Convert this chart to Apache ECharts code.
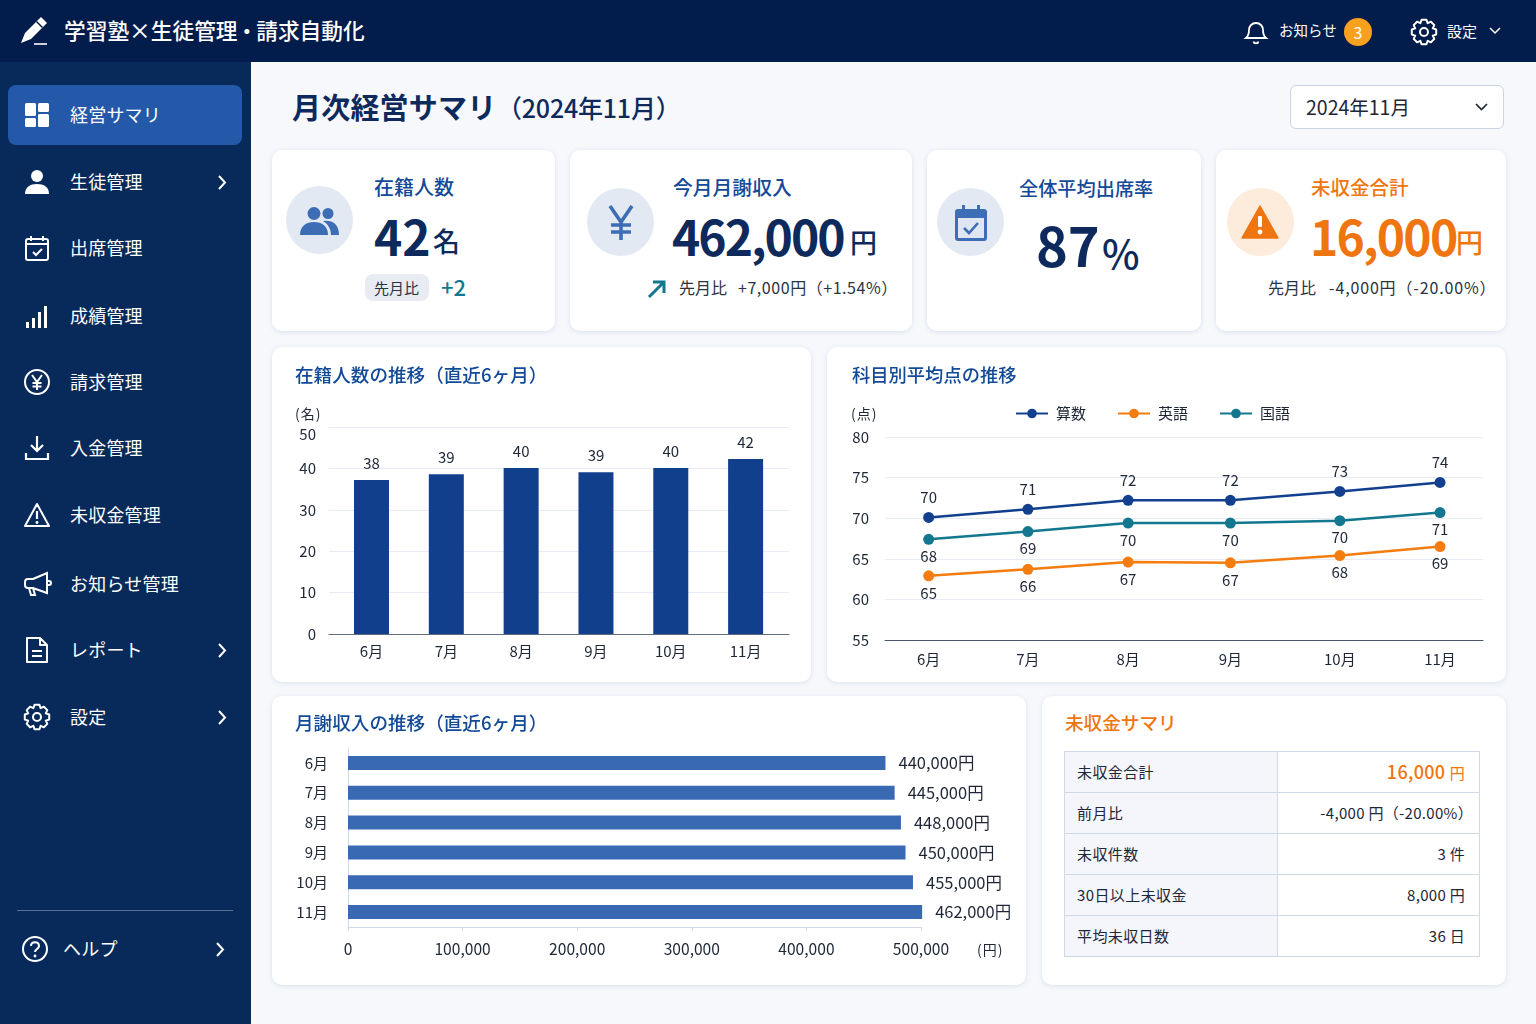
<!DOCTYPE html>
<html lang="ja">
<head>
<meta charset="utf-8">
<title>月次経営サマリ</title>
<script src="https://cdn.jsdelivr.net/npm/echarts@6/dist/echarts.min.js"></script>
<style>
  * { box-sizing: border-box; margin: 0; padding: 0; }
  html, body { width: 1536px; height: 1024px; overflow: hidden; background: #f6f8fc; font-family: 'Noto Sans CJK JP', 'Noto Sans', sans-serif; color: #1f2737; }
  .abs { position: absolute; }
  .t { position: absolute; white-space: nowrap; transform: translateY(calc(-50% - 1px)); line-height: 1; }
  .card { position: absolute; background: #fff; border-radius: 10px; box-shadow: 0 1px 5px rgba(40, 70, 120, .13); }
  .chart { position: absolute; left: 0; top: 0; width: 100%; height: 100%; }
  #topbar { position: absolute; left: 0; top: 0; width: 1536px; height: 62px; background: #021c4b; color: #fff; }
  #sidebar { position: absolute; left: 0; top: 62px; width: 251px; height: 962px; background: #072a5a; color: #fff; }
  .active { position: absolute; left: 8px; top: 23px; width: 234px; height: 60px; border-radius: 8px; background: #2458a8; }
  .nav { font-size: 18px; font-weight: 400; letter-spacing: .2px; }
  .kpi-label { font-size: 19.5px; font-weight: 500; color: #134a97; }
  .kpi-num { font-size: 48px; font-weight: 700; color: #0e2a5c; }
  .kpi-unit { font-size: 27px; font-weight: 500; color: #0e2a5c; }
  .delta { font-size: 16px; color: #2b3342; }
  .title { font-size: 18.6px; font-weight: 500; color: #134a97; }
  .unit { font-size: 14px; color: #1f2737; letter-spacing: 1px; }
  .orange { color: #ef7510; }
  .circle { position: absolute; width: 67px; height: 68px; border-radius: 50%; background: #e3e9f3; }
  table { position: absolute; left: 1064px; top: 751px; width: 416px; height: 205px; border-collapse: collapse; font-size: 15px; table-layout: fixed; }
  td { border: 1px solid #cfd9e8; padding: 0 14px 2px 12px; height: 41px; line-height: 1; }
  td:first-child { width: 213px; background: #f4f6fb; letter-spacing: .4px; }
  td:last-child { text-align: right; letter-spacing: .3px; }
  td.hl { color: #ef7510; font-size: 18px; font-weight: 500; }
  td.hl small { font-size: 15px; font-weight: 400; }
  svg { position: absolute; overflow: visible; }
</style>
</head>
<body>
<div id="topbar">
  <svg style="left:20px;top:16px" width="28" height="30" viewBox="0 0 28 30" fill="#fff"><path d="M21 1l6 6-16 16-10 4 4-10z"/><path d="M16.5 5.5l6 6" stroke="#021c4b" stroke-width="1.5"/><path d="M14 28h13" stroke="#fff" stroke-width="1.6"/></svg>
  <div class="t" style="left:64px;top:31px;font-size:21.7px;font-weight:500">学習塾×生徒管理<span style="display:inline-block;margin:0 -1.5px">・</span>請求自動化</div>
  <svg style="left:1244px;top:19px" width="24" height="27" viewBox="0 0 24 27" fill="none" stroke="#fff" stroke-width="1.8"><path d="M2 19c2.5-2 3-4 3-8 0-4 3-7 7-7s7 3 7 7c0 4 .5 6 3 8z"/><path d="M9.5 22.5c.5 2.4 4.5 2.4 5 0"/></svg>
  <div class="t" style="left:1279px;top:31px;font-size:14.5px">お知らせ</div>
  <div class="abs" style="left:1344px;top:18px;width:28px;height:28px;border-radius:50%;background:#f7a11f"></div>
  <div class="t" style="left:1353.5px;top:33px;font-size:16px;color:#fff">3</div>
  <svg id="gearTop" style="left:1411px;top:19px" width="26" height="26" viewBox="0 0 26 26"></svg>
  <div class="t" style="left:1447px;top:31px;font-size:15px">設定</div>
  <svg style="left:1489px;top:27px" width="12" height="8" fill="none" stroke="#fff" stroke-width="1.5"><path d="M1 1l5 5 5-5"/></svg>
</div>

<div id="sidebar"><div class="active"></div></div>

<div class="t" style="left:292px;top:107px;font-size:29px;font-weight:700;color:#0e2a5c;letter-spacing:.2px">月次経営サマリ</div>
<div class="t" style="left:497px;top:108px;font-size:25px;font-weight:500;color:#0e2a5c;letter-spacing:-.2px">（2024年11月）</div>

<div class="abs" style="left:1290px;top:85px;width:214px;height:44px;background:#fff;border:1px solid #c9d4e4;border-radius:6px"></div>
<div class="t" style="left:1306px;top:108px;font-size:19.5px">2024年11月</div>
<svg style="left:1475px;top:103px" width="13" height="8" fill="none" stroke="#1f2737" stroke-width="1.7"><path d="M1 1l5.5 5.5 5.5-5.5"/></svg>

<div class="card" style="left:272px;top:150px;width:283px;height:181px"></div>
<div class="card" style="left:570px;top:150px;width:342px;height:181px"></div>
<div class="card" style="left:927px;top:150px;width:274px;height:181px"></div>
<div class="card" style="left:1216px;top:150px;width:290px;height:181px"></div>

<div class="circle" style="left:286px;top:186px"></div>
<svg style="left:299px;top:206px" width="42" height="30" viewBox="0 0 42 30" fill="#3d6db5"><circle cx="15" cy="7.5" r="6.5"/><circle cx="29" cy="7.5" r="5.5"/><path d="M1 29c0-9 6-13 14-13s14 4 14 13z"/><path d="M24 15c8-1.5 16 2 16 14h-8c0-6-3-11-8-14z"/></svg>
<div class="t kpi-label" style="left:374px;top:188px;font-size:20px">在籍人数</div>
<div class="t kpi-num" style="left:374px;top:236px">42</div>
<div class="t kpi-unit" style="left:433px;top:241px">名</div>
<div class="abs" style="left:365px;top:274px;width:64px;height:27px;border-radius:8px;background:#e8ecf2"></div>
<div class="t" style="left:374px;top:288px;font-size:15px;color:#2b3342">先月比</div>
<div class="t" style="left:441px;top:287px;font-size:22px;font-weight:500;color:#13788f">+2</div>

<div class="circle" style="left:587px;top:188px"></div>
<svg style="left:608px;top:205px" width="26" height="36" fill="none" stroke="#3d6db5" stroke-width="3.6"><path d="M2 1l11 16L24 1M13 17v18M3 20h20M3 27h20"/></svg>
<div class="t kpi-label" style="left:673px;top:188px;font-size:19.8px">今月月謝収入</div>
<div class="t kpi-num" style="left:672px;top:236px;letter-spacing:-2px">462,000</div>
<div class="t kpi-unit" style="left:850px;top:242px">円</div>
<svg style="left:647px;top:279px" width="20" height="20" fill="none" stroke="#13788f" stroke-width="3"><path d="M2 18L16 4M6 3h11v11"/></svg>
<div class="t delta" style="left:679px;top:288px">先月比</div>
<div class="t delta" style="left:738px;top:288px;letter-spacing:.55px">+7,000円（+1.54%）</div>

<div class="circle" style="left:937px;top:188px"></div>
<svg style="left:954px;top:205px" width="34" height="37" viewBox="0 0 34 37"><rect x="1" y="4" width="32" height="32" rx="3" fill="#3d6db5"/><rect x="4" y="13" width="26" height="20" fill="#dfe6f2"/><rect x="8" y="0" width="3" height="8" fill="#3d6db5"/><rect x="23" y="0" width="3" height="8" fill="#3d6db5"/><path d="M10 23l5 5 9-10" fill="none" stroke="#3d6db5" stroke-width="2.6"/></svg>
<div class="t kpi-label" style="left:1019px;top:190px;font-size:19.2px">全体平均出席率</div>
<div class="t kpi-num" style="left:1036px;top:245px;font-size:54px">87</div>
<div class="t" style="left:1102px;top:253px;font-size:40px;font-weight:500;color:#0e2a5c">%</div>

<div class="circle" style="left:1227px;top:188px;background:#fdebdc"></div>
<svg style="left:1241px;top:205px" width="38" height="34" viewBox="0 0 38 34"><path d="M19 1L37 33H1z" fill="#ef7510" stroke="#ef7510" stroke-width="1.5" stroke-linejoin="round"/><rect x="17" y="11" width="4" height="11" rx="1" fill="#fff"/><circle cx="19" cy="27" r="2.4" fill="#fff"/></svg>
<div class="t kpi-label orange" style="left:1311px;top:188px">未収金合計</div>
<div class="t kpi-num orange" style="left:1310px;top:236px;letter-spacing:-1.8px">16,000</div>
<div class="t kpi-unit orange" style="left:1456px;top:242px">円</div>
<div class="t delta" style="left:1268px;top:288px">先月比</div>
<div class="t delta" style="left:1329px;top:288px;letter-spacing:.85px">-4,000円（-20.00%）</div>

<div class="card" style="left:272px;top:347px;width:539px;height:335px"><div id="memberChart" class="chart"></div></div>
<div class="card" style="left:827px;top:347px;width:679px;height:335px"><div id="scoreChart" class="chart"></div></div>
<div class="card" style="left:272px;top:696px;width:754px;height:289px"><div id="incomeChart" class="chart"></div></div>
<div class="card" style="left:1042px;top:696px;width:464px;height:289px"></div>

<div class="t title" style="left:295px;top:375px">在籍人数の推移（直近6ヶ月）</div>
<div class="t title" style="left:852px;top:375px;font-size:18.3px">科目別平均点の推移</div>
<div class="t title" style="left:295px;top:723px">月謝収入の推移（直近6ヶ月）</div>
<div class="t title orange" style="left:1065px;top:723px">未収金サマリ</div>
<div class="t unit" style="left:295px;top:414px">(名)</div>
<div class="t unit" style="left:851px;top:414px">(点)</div>
<div class="t unit" style="left:977px;top:950px">(円)</div>
<table id="summary"></table>

<script>
const FONT = "'Noto Sans CJK JP', 'Noto Sans', sans-serif";
const TEXT = '#1f2737';
const GRID = '#e6ebf5';

const months = ['6月', '7月', '8月', '9月', '10月', '11月'];

// Printed labels and drawn heights disagree a little in the picture, so both are kept.
const memberLabels = [38, 39, 40, 39, 40, 42];
const memberHeights = [37.2, 38.6, 40.1, 39.1, 40.1, 42.3];

const scoreMonthX = [0, 0.97, 1.95, 2.95, 4.02, 5];
const mathLabels = [70, 71, 72, 72, 73, 74];
const mathScores = [70.1, 71.1, 72.2, 72.2, 73.3, 74.4];
const englishLabels = [65, 66, 67, 67, 68, 69];
const englishScores = [62.9, 63.7, 64.6, 64.5, 65.4, 66.5];
const japaneseLabels = [68, 69, 70, 70, 70, 71];
const japaneseScores = [67.4, 68.35, 69.4, 69.4, 69.7, 70.7];

const incomeLabels = ['440,000円', '445,000円', '448,000円', '450,000円', '455,000円', '462,000円'];
const incomeLengths = [469000, 477000, 482500, 486500, 493000, 501000];

const summaryLabels = ['未収金合計', '前月比', '未収件数', '30日以上未収金', '平均未収日数'];
const summaryValues = ['16,000 <small>円</small>', '<span style="margin-right:-8px">-4,000 円（-20.00%）</span>', '3 件', '8,000 円', '36 日'];

const navLabels = ['経営サマリ', '生徒管理', '出席管理', '成績管理', '請求管理', '入金管理', '未収金管理', 'お知らせ管理', 'レポート', '設定'];
const navY = [115, 182, 248, 316, 382, 448, 515, 584, 650, 717];
const navArrow = [false, true, false, false, false, false, false, false, true, true];

// gear outline: 8 teeth around the centre of a 26 box
const gear = () => {
    let d = '';
    for (let i = 0; i < 8; i++) {
        const a = (i * Math.PI) / 4;
        [[-0.39, 9.5], [-0.2, 12.4], [0.2, 12.4], [0.39, 9.5]].forEach(([da, r], j) => {
            const x = 13 + r * Math.sin(a + da);
            const y = 13 - r * Math.cos(a + da);
            d += `${i === 0 && j === 0 ? 'M' : 'L'}${x.toFixed(1)} ${y.toFixed(1)}`;
        });
    }
    return `<path d="${d}z" fill="none" stroke="#fff" stroke-width="2" stroke-linejoin="round"/><circle cx="13" cy="13" r="4" fill="none" stroke="#fff" stroke-width="2"/>`;
};

const navIcons = [
    '<rect x="1" y="1" width="11" height="13" rx="1.5" fill="#fff"/><rect x="14" y="1" width="11" height="9" rx="1.5" fill="#fff"/><rect x="1" y="16" width="11" height="9" rx="1.5" fill="#fff"/><rect x="14" y="12" width="11" height="13" rx="1.5" fill="#fff"/>',
    '<circle cx="13" cy="7" r="6" fill="#fff"/><path d="M1 25c0-7 5-10 12-10s12 3 12 10z" fill="#fff"/>',
    '<rect x="2" y="4" width="22" height="21" rx="2" fill="none" stroke="#fff" stroke-width="2"/><path d="M2 9h22M7 1v5M19 1v5" stroke="#fff" stroke-width="2"/><path d="M9 17l3 3 6-6" fill="none" stroke="#fff" stroke-width="2"/>',
    '<rect x="2" y="19" width="3" height="6" fill="#fff"/><rect x="8" y="15" width="3" height="10" fill="#fff"/><rect x="14" y="9" width="3" height="16" fill="#fff"/><rect x="20" y="3" width="3" height="22" fill="#fff"/>',
    '<circle cx="13" cy="13" r="12" fill="none" stroke="#fff" stroke-width="2"/><path d="M8 6l5 7 5-7M13 13v8M8.5 14h9M8.5 17.5h9" fill="none" stroke="#fff" stroke-width="2"/>',
    '<path d="M13 1v15M7 10l6 6 6-6M2 18v6h22v-6" fill="none" stroke="#fff" stroke-width="2.2"/>',
    '<path d="M13 2L25 24H1z" fill="none" stroke="#fff" stroke-width="2" stroke-linejoin="round"/><path d="M13 9v8" stroke="#fff" stroke-width="2.2"/><circle cx="13" cy="20.5" r="1.4" fill="#fff"/>',
    '<path d="M9 8l14-6v20L9 17H4a3 3 0 0 1-3-3v-3a3 3 0 0 1 3-3z M5 17l2 7h4l-2-7 M23 10h2a2 2 0 0 1 0 4h-2" fill="none" stroke="#fff" stroke-width="2"/>',
    '<path d="M3 1h13l7 7v17H3z M16 1v7h7 M8 14h10M8 19h10" fill="none" stroke="#fff" stroke-width="2" stroke-linejoin="round"/>',
    gear(),
];

const sidebar = document.getElementById('sidebar');
const chevron = (x, y) => `<svg style="left:${x}px;top:${y - 62 - 7}px" width="10" height="15" fill="none" stroke="#fff" stroke-width="2"><path d="M2 1l6 6.5-6 6.5"/></svg>`;
navLabels.forEach((label, i) => {
    const y = navY[i];
    sidebar.insertAdjacentHTML('beforeend',
        `<svg style="left:24px;top:${y - 62 - 13}px" width="26" height="26" viewBox="0 0 26 26">${navIcons[i]}</svg>` +
        `<div class="t nav" style="left:70px;top:${y - 62}px">${label}</div>` +
        (navArrow[i] ? chevron(217, y) : ''));
});
sidebar.insertAdjacentHTML('beforeend',
    '<div class="abs" style="left:17px;top:848px;width:216px;height:1px;background:#5a7194"></div>' +
    '<svg style="left:22px;top:874px" width="26" height="26" viewBox="0 0 26 26"><circle cx="13" cy="13" r="12" fill="none" stroke="#fff" stroke-width="2"/><path d="M9 10c0-5 8-5 8 0 0 3-4 3-4 6" fill="none" stroke="#fff" stroke-width="2"/><circle cx="13" cy="20" r="1.4" fill="#fff"/></svg>' +
    '<div class="t nav" style="left:63px;top:887px">ヘルプ</div>' + chevron(215, 949));

document.getElementById('gearTop').innerHTML = gear();

document.getElementById('summary').innerHTML = summaryLabels.map((label, i) =>
    `<tr><td>${label}</td><td class="${i === 0 ? 'hl' : ''}">${summaryValues[i]}</td></tr>`).join('');

const axisText = { color: TEXT, fontSize: 15, fontFamily: FONT };
const numberLabel = { color: TEXT, fontSize: 15, fontFamily: FONT };

const memberChart = echarts.init(document.getElementById('memberChart'));
memberChart.setOption({
    animation: false,
    grid: { left: 57, right: 22, top: 80, bottom: 48 },
    xAxis: {
        type: 'value',
        min: -0.568,
        max: 5.58,
        splitLine: { show: false },
        axisTick: { show: false },
        axisLine: { show: true, lineStyle: { color: '#5f6b80' } },
        axisLabel: { ...axisText, margin: 10, customValues: [0, 1, 2, 3, 4, 5], formatter: (v) => months[v] },
    },
    yAxis: {
        type: 'value',
        min: 0,
        max: 50,
        interval: 10,
        axisLine: { show: false },
        axisTick: { show: false },
        axisLabel: { ...axisText, margin: 13, verticalAlignMaxLabel: 'top' },
        splitLine: { lineStyle: { color: GRID } },
    },
    series: [{
        type: 'bar',
        barWidth: 35,
        itemStyle: { color: '#123f8c' },
        data: memberHeights.map((v, i) => [i, v]),
        label: { show: true, position: 'top', distance: 9, ...numberLabel, formatter: (p) => memberLabels[p.dataIndex] },
    }],
});

const lineSeries = (name, color, scores, labels, position, distance) => ({
    name,
    type: 'line',
    symbol: 'circle',
    symbolSize: 11,
    color,
    lineStyle: { color, width: 2.5 },
    itemStyle: { color },
    data: scores.map((v, i) => [scoreMonthX[i], v]),
    label: { show: true, position, distance, ...numberLabel, formatter: (p) => labels[p.dataIndex] },
});

const scoreChart = echarts.init(document.getElementById('scoreChart'));
scoreChart.setOption({
    animation: false,
    grid: { left: 58, right: 23, top: 90, bottom: 42 },
    legend: {
        left: 183,
        top: 54,
        itemWidth: 32,
        itemHeight: 12,
        itemGap: 31,
        textStyle: { color: TEXT, fontSize: 15, fontFamily: FONT, padding: [0, 0, 0, 3] },
        data: ['算数', '英語', '国語'],
    },
    xAxis: {
        type: 'value',
        min: -0.427,
        max: 5.42,
        splitLine: { show: false },
        axisTick: { show: false },
        axisLine: { show: true, lineStyle: { color: '#4a5670' } },
        axisLabel: { ...axisText, margin: 12, customValues: scoreMonthX, formatter: (v) => months[scoreMonthX.indexOf(v)] },
    },
    yAxis: {
        type: 'value',
        min: 55,
        max: 80,
        interval: 5,
        axisLine: { show: false },
        axisTick: { show: false },
        axisLabel: { ...axisText, margin: 16 },
        splitLine: { lineStyle: { color: GRID } },
    },
    series: [
        lineSeries('算数', '#12408f', mathScores, mathLabels, 'top', 7),
        lineSeries('英語', '#f57c0f', englishScores, englishLabels, 'bottom', 4),
        lineSeries('国語', '#13788f', japaneseScores, japaneseLabels, 'bottom', 4),
    ],
});

const incomeChart = echarts.init(document.getElementById('incomeChart'));
incomeChart.setOption({
    animation: false,
    grid: { left: 76, width: 573, top: 52, height: 179 },
    xAxis: {
        type: 'value',
        min: 0,
        max: 500000,
        interval: 100000,
        splitLine: { show: false },
        axisLine: { show: true, lineStyle: { color: '#cfd9e8' } },
        axisTick: { show: true, length: 4, lineStyle: { color: '#cfd9e8' } },
        axisLabel: { ...axisText, fontSize: 15.6, margin: 14, formatter: (v) => v.toLocaleString('en-US') },
    },
    yAxis: {
        type: 'category',
        inverse: true,
        data: months,
        axisLine: { show: true, onZero: false, lineStyle: { color: '#cfd9e8' } },
        axisTick: { show: false },
        axisLabel: { ...axisText, margin: 20 },
    },
    series: [{
        type: 'bar',
        barWidth: 14,
        clip: false,
        itemStyle: { color: '#3a69b4' },
        data: incomeLengths,
        label: { show: true, position: 'right', distance: 13, ...numberLabel, fontSize: 16.5, formatter: (p) => incomeLabels[p.dataIndex] },
    }],
});
</script>
</body>
</html>
